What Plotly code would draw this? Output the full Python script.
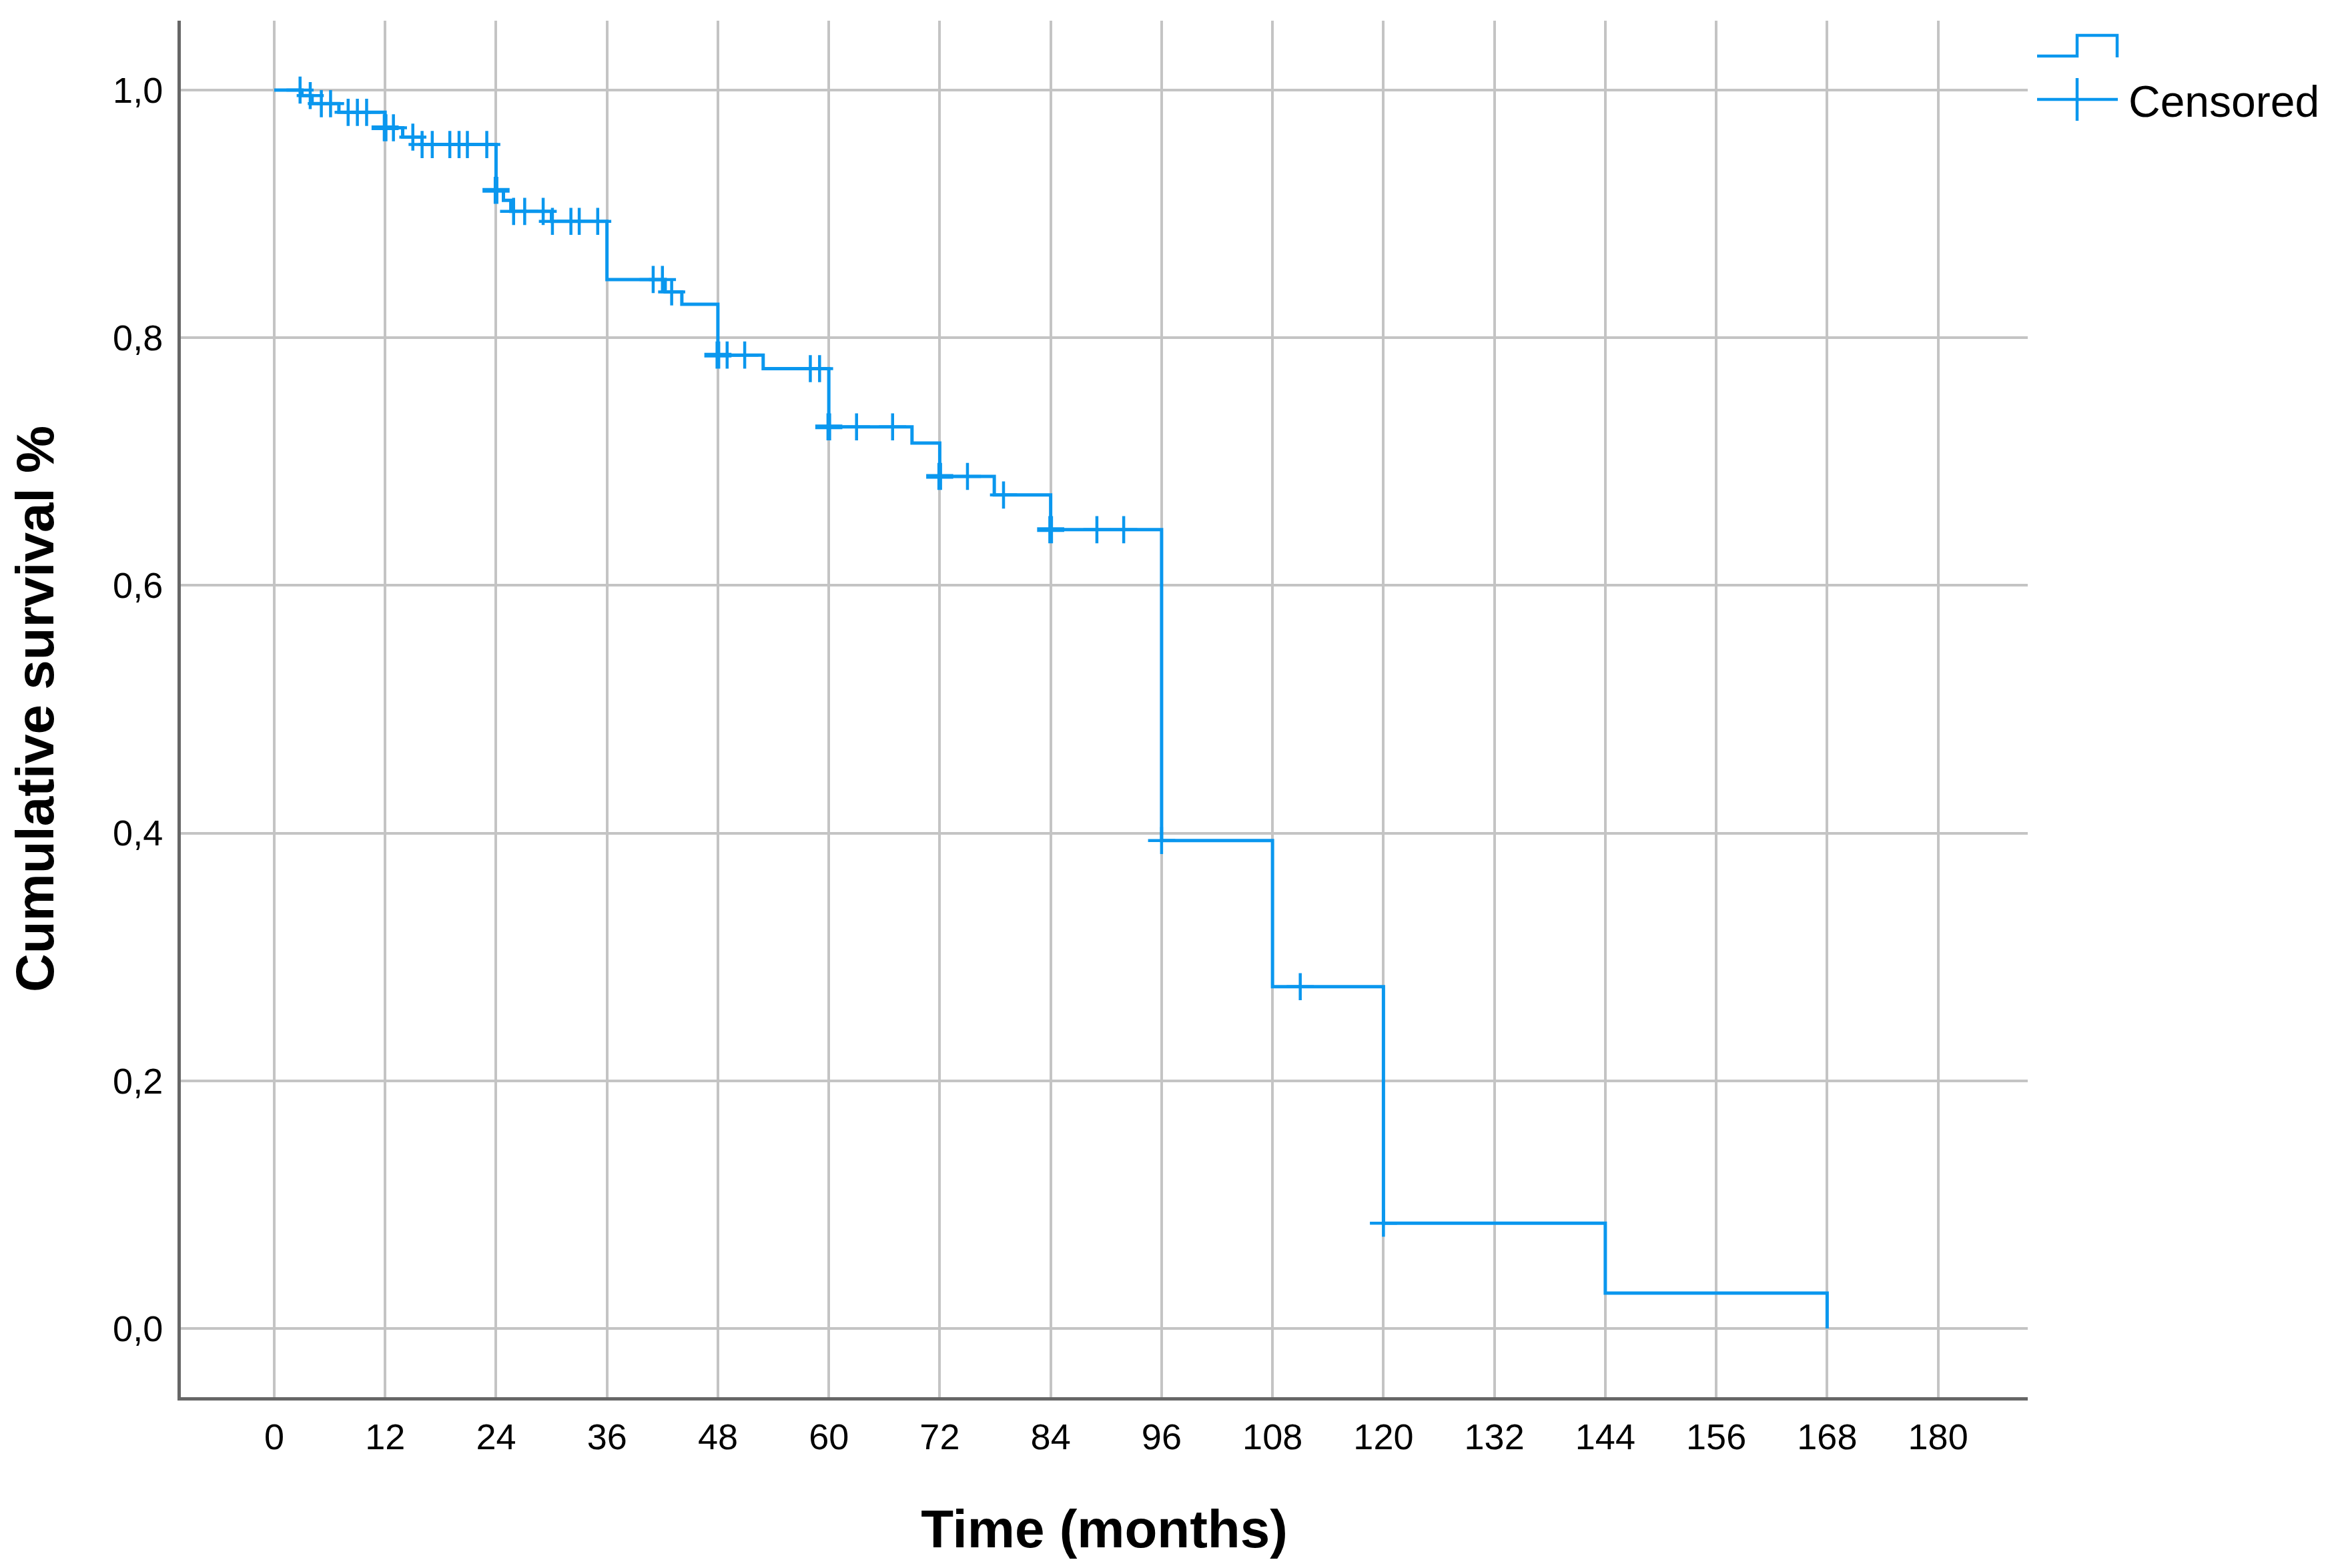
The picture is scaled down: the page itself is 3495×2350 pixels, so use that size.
import bisect
from collections import Counter
import plotly.graph_objects as go

# ---- data ----
event_times = [0, 3.0, 4.1, 7.0, 12.0, 13.9, 16.0, 24.0, 24.8, 25.6, 30.0, 36.0,
               42.3, 44.1, 48.0, 52.9, 60.0, 69.0, 72.0, 77.9, 84.0, 96.0, 108.0,
               120.0, 144.0, 168.0]
survival = [1.0, 0.9955, 0.989, 0.982, 0.9695, 0.962, 0.956, 0.919, 0.911, 0.902,
            0.894, 0.847, 0.837, 0.827, 0.786, 0.775, 0.728, 0.715, 0.688, 0.673,
            0.645, 0.394, 0.276, 0.085, 0.0285, 0.0]
# tied censored times (several cases censored at the same month) are listed repeatedly
censored_times = [2.8, 3.9, 5.1, 6.1, 8.0, 9.0, 10.0, 12.0, 12.0, 12.9, 15.0, 16.0, 17.1,
                  19.0, 20.0, 20.9, 23.0, 24.0, 24.0, 25.9, 27.1, 29.1, 30.1, 32.1, 33.0,
                  35.0, 41.0, 42.0, 43.0, 48.0, 48.0, 49.0, 50.9, 58.0, 59.0, 60.0, 60.0,
                  63.0, 66.9, 72.0, 72.0, 75.0, 78.9, 84.0, 84.0, 89.0, 91.9, 96.0,
                  111.0, 120.0]
x_ticks = list(range(0, 181, 12))
y_ticks = [0.0, 0.2, 0.4, 0.6, 0.8, 1.0]
y_tick_labels = ["0,0", "0,2", "0,4", "0,6", "0,8", "1,0"]
legend_label = "Censored"
x_title = "Time (months)"
y_title = "Cumulative survival %"

# unique censored times, their multiplicity and survival level (step function lookup)
cens_count = Counter(censored_times)
cens_x = sorted(cens_count)
cens_y = [survival[bisect.bisect_right(event_times, t) - 1] for t in cens_x]
cens_w = [4.5 + 2.5 * (cens_count[t] - 1) for t in cens_x]

BLUE = "#0a97ee"
W, H = 3495, 2350
L, R, T, B = 263, 464, 23, 264
PW, PH = W - L - R, H - T - B

fig = go.Figure()
fig.add_trace(go.Scatter(
    x=event_times, y=survival, mode="lines", line=dict(color=BLUE, width=5, shape="hv"),
    showlegend=False, hoverinfo="skip"))
fig.add_trace(go.Scatter(
    x=cens_x, y=cens_y, mode="markers",
    marker=dict(symbol="cross-thin", size=29, color=BLUE, line=dict(color=BLUE, width=cens_w)),
    showlegend=False, name=legend_label))

# custom legend drawn in paper coordinates (outside the plot area)
def px(xp):
    return (xp - L) / PW

def py(yp):
    return (H - B - yp) / PH

step_path = "M{},{} L{},{} L{},{} L{},{} L{},{}".format(
    px(3045), py(76), px(3105), py(76), px(3105), py(45), px(3165), py(45), px(3165), py(78))
shapes = [
    dict(type="path", xref="paper", yref="paper", path=step_path,
         line=dict(color=BLUE, width=4.5)),
    dict(type="line", xref="paper", yref="paper", x0=px(3045), x1=px(3166), y0=py(141), y1=py(141),
         line=dict(color=BLUE, width=4.5)),
    dict(type="line", xref="paper", yref="paper", x0=px(3105), x1=px(3105), y0=py(109), y1=py(173),
         line=dict(color=BLUE, width=4.5)),
]
annotations = [
    dict(xref="paper", yref="paper", x=px(3180), y=py(144), text=legend_label, showarrow=False,
         xanchor="left", yanchor="middle", font=dict(family="Liberation Sans", size=66, color="#000000")),
]

fig.update_layout(
    width=W, height=H,
    margin=dict(l=L, r=R, t=T, b=B, pad=0),
    paper_bgcolor="white", plot_bgcolor="white",
    shapes=shapes, annotations=annotations,
    showlegend=False,
    font=dict(family="Liberation Sans", color="#000000"),
)
fig.update_xaxes(
    range=[-10.1, 189.7], tickvals=x_ticks, ticktext=[str(v) for v in x_ticks],
    showgrid=True, gridcolor="#c4c4c4", gridwidth=4, zeroline=False,
    showline=True, linecolor="#666666", linewidth=5,
    ticks="outside", ticklen=8, tickcolor="rgba(0,0,0,0)",
    tickfont=dict(family="Liberation Sans", size=54, color="#000000"),
    title=dict(text="<b>" + x_title + "</b>", standoff=83,
               font=dict(family="Liberation Sans", size=80, color="#000000")),
)
fig.update_yaxes(
    range=[-0.0555, 1.056], tickvals=y_ticks, ticktext=y_tick_labels,
    showgrid=True, gridcolor="#c4c4c4", gridwidth=4, zeroline=False,
    showline=True, linecolor="#666666", linewidth=5,
    ticks="outside", ticklen=11, tickcolor="rgba(0,0,0,0)",
    tickfont=dict(family="Liberation Sans", size=54, color="#000000"),
    title=dict(text="<b>" + y_title + "</b>", standoff=80,
               font=dict(family="Liberation Sans", size=80, color="#000000")),
)

fig.write_html("out.html")
